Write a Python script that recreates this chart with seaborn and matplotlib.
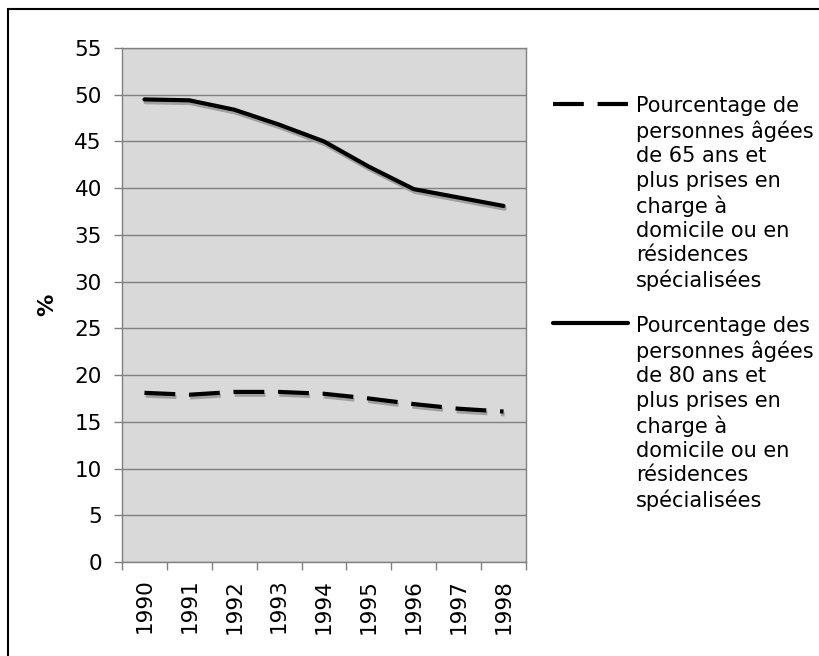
import matplotlib
matplotlib.use("Agg")
import matplotlib.pyplot as plt
import matplotlib.patheffects as pe
from matplotlib.lines import Line2D
from matplotlib.patches import Rectangle
import seaborn as sns
import pandas as pd

years = ["1990", "1991", "1992", "1993", "1994", "1995", "1996", "1997", "1998"]
pct_65 = [18.1, 17.9, 18.2, 18.2, 18.0, 17.5, 16.9, 16.4, 16.1]
pct_80 = [49.5, 49.4, 48.4, 46.8, 45.0, 42.3, 39.9, 39.0, 38.1]
label_65 = ("Pourcentage de\npersonnes âgées\nde 65 ans et\nplus prises en\n"
            "charge à\ndomicile ou en\nrésidences\nspécialisées")
label_80 = ("Pourcentage des\npersonnes âgées\nde 80 ans et\nplus prises en\n"
            "charge à\ndomicile ou en\nrésidences\nspécialisées")

sns.set_style("white")
plt.rcParams["font.family"] = ["DejaVu Sans"]
plt.rcParams["text.color"] = "black"
plt.rcParams["axes.labelcolor"] = "black"
plt.rcParams["xtick.labelcolor"] = "black"
plt.rcParams["ytick.labelcolor"] = "black"

df = pd.DataFrame({"pos": range(len(years)), "p65": pct_65, "p80": pct_80})

fig = plt.figure(figsize=(8.2, 6.56), dpi=100)
ax = fig.add_axes([122 / 820, 1 - 562 / 656, 404 / 820, 514 / 656])
ax.set_facecolor("#d9d9d9")

shadow = [pe.SimpleLineShadow(offset=(0.8, -2.0), shadow_color="#a0a0a0", alpha=1, rho=1),
          pe.Normal()]
dash = (0, (7.4, 3.3))
sns.lineplot(data=df, x="pos", y="p65", ax=ax, color="black", lw=3,
             linestyle=dash, path_effects=shadow)
sns.lineplot(data=df, x="pos", y="p80", ax=ax, color="black", lw=3,
             path_effects=shadow)

ax.set_xlim(-0.5, len(years) - 0.5)
ax.set_ylim(0, 55)
ax.set_yticks(range(0, 56, 5))
ax.yaxis.grid(True, color="#808080", lw=1)
ax.set_axisbelow(True)
ax.tick_params(axis="y", labelsize=15.5, length=6, width=1, color="#808080",
               pad=8.5, left=True)

ax.set_xticks(range(len(years)))
ax.set_xticklabels(years, rotation=90)
ax.set_xticks([i - 0.5 for i in range(len(years) + 1)], minor=True)
ax.tick_params(axis="x", which="major", length=0, labelsize=15.5, pad=12)
ax.tick_params(axis="x", which="minor", length=6, width=1, color="#808080",
               bottom=True)

for s in ax.spines.values():
    s.set_color("#808080")
    s.set_linewidth(1)

ax.set_xlabel("")
ax.set_ylabel("%", fontsize=16, fontweight="heavy")
ax.yaxis.set_label_coords(-0.16, 0.5)

# legend drawn by hand so the key sits on the first line of each label
# (va="baseline" on multi-line text pins the last line)
legend_rows = [(label_65, dash, 104, 287), (label_80, "-", 323, 507)]
for text, ls, y_line, y_last in legend_rows:
    fig.add_artist(Line2D([553 / 820, 628 / 820], [1 - y_line / 656] * 2,
                          transform=fig.transFigure, color="black", lw=3,
                          linestyle=ls))
    fig.text(636 / 820, 1 - y_last / 656, text, fontsize=15, va="baseline",
             ha="left", linespacing=1.26)

fig.patches.append(Rectangle((8 / 820, -0.1), 1.2, 1.1 - 9 / 656, transform=fig.transFigure,
                             fill=False, edgecolor="black", lw=1.5))

fig.savefig("out.png", dpi=100)
